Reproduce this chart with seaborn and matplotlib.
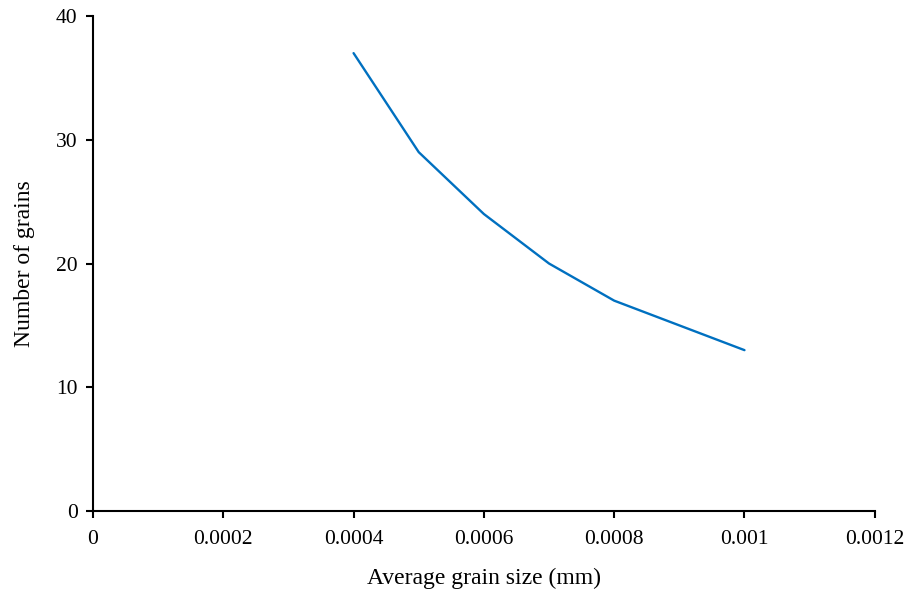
import pandas as pd
import numpy as np
import matplotlib.pyplot as plt
import seaborn as sns

# --- data ---
grain_size = [0.0004, 0.0005, 0.0006, 0.0007, 0.0008, 0.0009, 0.001]
num_grains = [37, 29, 24, 20, 17, 15, 13]
x_ticks = [0, 0.0002, 0.0004, 0.0006, 0.0008, 0.001, 0.0012]
x_labels = ['0', '0.0002', '0.0004', '0.0006', '0.0008', '0.001', '0.0012']
y_ticks = [0, 10, 20, 30, 40]
y_labels = ['0', '10', '20', '30', '40']

df = pd.DataFrame({'size': grain_size, 'grains': num_grains})

sns.set_style('ticks')
plt.rcParams['font.family'] = ['Liberation Serif', 'DejaVu Serif']
plt.rcParams['text.color'] = 'black'
plt.rcParams['axes.labelcolor'] = 'black'

fig = plt.figure(figsize=(9.16, 5.89), dpi=100)
ax = fig.add_axes([0.1015, 0.1324, 0.8535, 0.8404])
sns.lineplot(data=df, x='size', y='grains', ax=ax, color='#0070C0', linewidth=1.7)

ax.set_xlim(0, 0.0012)
ax.set_ylim(0, 40)
ax.set_xticks(x_ticks)
ax.set_xticklabels(x_labels)
ax.set_yticks(y_ticks)
ax.set_yticklabels(y_labels)
ax.tick_params(axis='both', labelsize=15.5, length=5, width=1.5, colors='black')
ax.tick_params(axis='x', pad=9)
ax.tick_params(axis='y', pad=6)
for side in ['left', 'bottom']:
    ax.spines[side].set_linewidth(1.5)
    ax.spines[side].set_color('black')
sns.despine(ax=ax)

ax.set_xlabel('Average grain size (mm)', fontsize=17, labelpad=13)
ax.set_ylabel('Number of grains', fontsize=17, labelpad=15)

fig.savefig('out.png', dpi=100)
